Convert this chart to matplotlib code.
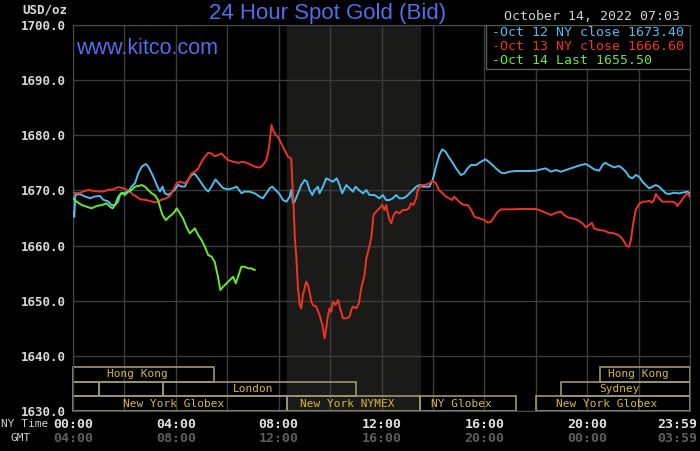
import matplotlib
matplotlib.use('Agg')
import matplotlib.pyplot as plt
from matplotlib.patches import Rectangle
import matplotlib.transforms as mtransforms

# hours after 00:00 NY time, bid price USD/oz
oct12_hours = [0.01, 0.05, 0.09, 0.27, 0.47, 0.66, 0.85, 1.05, 1.18, 1.37, 1.50, 1.63, 1.76, 1.83, 1.95,
               2.15, 2.28, 2.41, 2.54, 2.67, 2.83, 2.93, 3.06, 3.18, 3.28, 3.38, 3.48, 3.57, 3.70, 3.83,
               3.96, 4.09, 4.22, 4.35, 4.48, 4.61, 4.74, 4.87, 5.00, 5.13, 5.26, 5.39, 5.54, 5.67, 5.84,
               6.03, 6.23, 6.36, 6.55, 6.68, 6.87, 7.07, 7.26, 7.39, 7.52, 7.65, 7.75, 7.88, 8.01, 8.17,
               8.30, 8.43, 8.49, 8.56, 8.62, 8.75, 8.88, 9.01, 9.10, 9.20, 9.31, 9.40, 9.53, 9.59, 9.72,
               9.85, 9.98, 10.11, 10.26, 10.37, 10.47, 10.63, 10.76, 10.89, 10.99, 11.12, 11.28, 11.41,
               11.53, 11.73, 11.92, 12.05, 12.18, 12.31, 12.44, 12.57, 12.70, 12.83, 12.96, 13.09, 13.22,
               13.35, 13.48, 13.61, 13.73, 13.86, 13.99, 14.12, 14.25, 14.36, 14.49, 14.61, 14.74, 14.90,
               15.09, 15.22, 15.35, 15.48, 15.68, 15.87, 16.04, 16.17, 16.32, 16.45, 16.65, 16.78, 16.97,
               17.23, 17.49, 17.75, 18.01, 18.20, 18.39, 18.59, 18.78, 18.98, 19.17, 19.36, 19.56, 19.75,
               19.95, 20.08, 20.27, 20.47, 20.60, 20.70, 20.85, 21.05, 21.24, 21.37, 21.50, 21.63, 21.76,
               21.89, 22.02, 22.15, 22.28, 22.41, 22.54, 22.67, 22.80, 22.93, 23.06, 23.19, 23.38, 23.57,
               23.77, 23.90, 23.99]
oct12_price = [1666.1, 1665.2, 1669.2, 1669.35, 1668.9, 1668.6, 1668.9, 1669.0, 1668.3, 1668.0, 1667.35,
               1667.35, 1668.0, 1669.2, 1669.5, 1669.8, 1670.7, 1671.3, 1673.1, 1674.3, 1674.8, 1674.3,
               1673.1, 1671.9, 1670.7, 1669.8, 1670.7, 1669.5, 1669.2, 1669.6, 1670.1, 1671.0, 1670.7,
               1670.7, 1671.9, 1672.8, 1673.0, 1672.2, 1671.3, 1670.4, 1669.8, 1670.7, 1672.0, 1671.3,
               1670.4, 1670.2, 1670.4, 1670.7, 1669.5, 1669.8, 1669.77, 1669.47, 1668.87, 1668.57,
               1669.47, 1670.38, 1670.68, 1670.08, 1669.47, 1668.26, 1667.96, 1668.87, 1670.08, 1667.66,
               1667.96, 1669.47, 1670.98, 1671.89, 1671.59, 1670.08, 1669.17, 1670.08, 1670.68, 1669.47,
               1670.68, 1672.19, 1671.89, 1671.59, 1672.19, 1670.98, 1669.47, 1670.98, 1670.38, 1669.77,
               1670.68, 1670.08, 1669.47, 1670.08, 1669.17, 1669.17, 1668.57, 1669.17, 1668.26, 1668.26,
               1668.57, 1669.17, 1668.57, 1668.57, 1668.87, 1669.47, 1670.08, 1670.68, 1670.98, 1670.68,
               1670.68, 1670.68, 1671.89, 1674.3, 1676.42, 1677.45, 1677.02, 1676.12, 1675.21, 1674.0,
               1672.79, 1673.1, 1674.0, 1674.61, 1674.61, 1675.21, 1675.63, 1675.21, 1674.61, 1674.0,
               1673.22, 1673.1, 1673.4, 1673.52, 1673.52, 1673.52, 1673.58, 1673.82, 1674.0, 1673.4,
               1673.7, 1673.4, 1673.7, 1674.0, 1674.3, 1674.61, 1674.79, 1674.43, 1673.82, 1673.58,
               1674.61, 1675.03, 1674.61, 1674.18, 1674.43, 1674.0, 1673.4, 1672.49, 1672.19, 1672.79,
               1672.49, 1671.58, 1670.98, 1670.38, 1670.68, 1670.98, 1670.68, 1670.07, 1669.47, 1669.35,
               1669.59, 1669.47, 1669.65, 1669.77, 1669.47]

oct13_hours = [0.01, 0.21, 0.40, 0.60, 0.79, 0.98, 1.18, 1.37, 1.57, 1.76, 1.95, 2.08, 2.21, 2.34, 2.47,
               2.60, 2.80, 2.99, 3.18, 3.31, 3.44, 3.64, 3.77, 3.90, 4.03, 4.16, 4.35, 4.48, 4.61, 4.74,
               4.87, 5.00, 5.13, 5.26, 5.39, 5.51, 5.64, 5.77, 5.90, 6.03, 6.23, 6.42, 6.61, 6.81, 7.07,
               7.26, 7.39, 7.52, 7.62, 7.68, 7.72, 7.78, 7.88, 7.97, 8.10, 8.23, 8.36, 8.49, 8.53, 8.58,
               8.63, 8.69, 8.75, 8.82, 8.88, 8.94, 9.01, 9.07, 9.14, 9.20, 9.27, 9.33, 9.46, 9.59, 9.70,
               9.79, 9.85, 9.92, 9.98, 10.05, 10.11, 10.21, 10.31, 10.39, 10.50, 10.63, 10.76, 10.82,
               10.89, 11.02, 11.12, 11.21, 11.34, 11.41, 11.51, 11.60, 11.69, 11.79, 11.92, 12.03, 12.12,
               12.18, 12.29, 12.38, 12.47, 12.57, 12.70, 12.83, 12.96, 13.06, 13.15, 13.24, 13.35, 13.41,
               13.54, 13.67, 13.87, 13.99, 14.12, 14.23, 14.38, 14.51, 14.64, 14.74, 14.83, 14.96, 15.09,
               15.22, 15.35, 15.49, 15.61, 15.81, 16.00, 16.13, 16.26, 16.39, 16.52, 16.65, 16.84, 17.10,
               17.36, 17.55, 17.75, 18.01, 18.20, 18.39, 18.59, 18.78, 18.98, 19.11, 19.24, 19.43, 19.63,
               19.82, 19.95, 20.08, 20.18, 20.27, 20.47, 20.66, 20.85, 21.05, 21.22, 21.35, 21.44, 21.53,
               21.63, 21.70, 21.79, 21.89, 22.02, 22.15, 22.28, 22.41, 22.51, 22.60, 22.67, 22.80, 22.93,
               23.12, 23.32, 23.45, 23.51, 23.64, 23.77, 23.90, 23.99]
oct13_price = [1669.6, 1669.5, 1669.8, 1670.1, 1669.9, 1669.8, 1669.8, 1670.1, 1670.2, 1670.6, 1670.4,
               1670.1, 1669.8, 1669.2, 1668.9, 1668.4, 1668.3, 1668.1, 1667.8, 1668.0, 1668.3, 1668.6,
               1669.0, 1670.1, 1671.3, 1671.6, 1671.3, 1671.9, 1673.1, 1673.4, 1674.0, 1675.2, 1676.1,
               1676.8, 1676.7, 1676.2, 1676.4, 1676.7, 1676.1, 1675.5, 1675.2, 1675.0, 1675.2, 1674.9,
               1674.31, 1674.13, 1674.61, 1675.52, 1677.63, 1680.05, 1681.87, 1680.96, 1680.05, 1679.75,
               1678.54, 1677.33, 1676.12, 1675.82, 1671.59, 1667.36, 1661.31, 1657.68, 1652.24, 1649.22,
               1648.61, 1651.03, 1652.24, 1653.45, 1652.85, 1651.64, 1649.82, 1649.22, 1648.92, 1647.4,
               1645.59, 1643.17, 1644.99, 1647.4, 1648.61, 1648.01, 1649.82, 1649.22, 1650.13, 1648.61,
               1646.8, 1646.8, 1647.1, 1648.31, 1648.92, 1648.61, 1649.52, 1652.24, 1654.66, 1657.68,
               1659.5, 1661.31, 1665.54, 1666.15, 1666.75, 1667.36, 1666.45, 1667.36, 1664.94, 1664.03,
               1665.54, 1666.15, 1665.85, 1666.45, 1666.45, 1666.75, 1667.66, 1667.36, 1668.57, 1670.08,
               1670.98, 1670.98, 1671.29, 1671.77, 1671.28, 1670.07, 1669.47, 1668.86, 1668.56, 1668.26,
               1668.86, 1668.26, 1667.65, 1667.35, 1667.35, 1666.44, 1665.23, 1664.93, 1664.63, 1664.15,
               1664.33, 1665.23, 1666.14, 1666.57, 1666.57, 1666.57, 1666.63, 1666.63, 1666.63, 1666.63,
               1666.32, 1665.96, 1665.54, 1665.96, 1666.14, 1665.54, 1665.12, 1664.93, 1664.63, 1664.03,
               1663.3, 1663.72, 1664.15, 1663.12, 1662.82, 1662.7, 1662.33, 1662.21, 1661.91, 1661.31,
               1660.7, 1659.92, 1659.79, 1661.0, 1664.03, 1666.44, 1667.53, 1667.96, 1667.96, 1668.14,
               1667.78, 1668.26, 1669.35, 1668.56, 1667.96, 1667.96, 1667.96, 1667.65, 1667.17, 1667.96,
               1668.86, 1669.47, 1668.86]

oct14_hours = [0.01, 0.14, 0.34, 0.53, 0.72, 0.92, 1.11, 1.31, 1.44, 1.54, 1.63, 1.76, 1.89, 2.02, 2.15,
               2.28, 2.41, 2.54, 2.67, 2.80, 2.93, 3.06, 3.18, 3.31, 3.38, 3.48, 3.61, 3.74, 3.83, 3.96,
               4.03, 4.16, 4.28, 4.41, 4.54, 4.74, 4.87, 5.00, 5.13, 5.26, 5.39, 5.51, 5.64, 5.73, 5.84,
               5.97, 6.10, 6.23, 6.33, 6.42, 6.55, 6.68, 6.81, 6.94, 7.07]
oct14_price = [1668.56, 1667.96, 1667.35, 1667.05, 1666.75, 1667.17, 1667.35, 1667.65, 1667.05, 1666.75,
               1667.35, 1668.86, 1669.59, 1669.17, 1669.77, 1670.07, 1670.68, 1670.8, 1670.98, 1670.68,
               1670.07, 1669.47, 1669.17, 1668.26, 1667.05, 1665.54, 1664.63, 1665.24, 1665.54, 1666.14,
               1666.75, 1665.84, 1664.93, 1663.42, 1662.21, 1663.12, 1661.91, 1661.0, 1659.79, 1658.28,
               1657.98, 1657.07, 1654.35, 1651.94, 1652.54, 1653.14, 1653.75, 1654.35, 1653.14, 1654.35,
               1656.17, 1656.17, 1655.87, 1655.87, 1655.56]

legend_labels = ['-Oct 12 NY close 1673.40', '-Oct 13 NY close 1666.60', '-Oct 14 Last 1655.50']

# trading sessions: name, start hour, end hour, row (0 = bottom)
session_names = ['New York Globex', 'New York NYMEX', 'NY Globex', 'New York Globex',
                 '', '', 'London', 'Sydney',
                 'Hong Kong', 'Hong Kong']
session_start = [0.0, 8.33, 13.5, 18.0, 0.0, 1.0, 3.5, 19.0, 0.0, 20.5]
session_end = [8.33, 13.5, 17.25, 24.0, 1.0, 3.5, 11.0, 24.0, 5.5, 24.0]
session_row = [0, 0, 0, 0, 1, 1, 1, 1, 2, 2]

ny_ticks = [0, 4, 8, 12, 16, 20]
ny_labels = ['00:00', '04:00', '08:00', '12:00', '16:00', '20:00']
gmt_labels = ['04:00', '08:00', '12:00', '16:00', '20:00', '00:00']

MONO = 'DejaVu Sans Mono'
W, H = 700, 451

fig = plt.figure(figsize=(7, 4.51), dpi=100, facecolor='black')
ax = fig.add_axes([73 / W, 1 - 411 / H, 617 / W, 386 / H], facecolor='black')


def ftext(x, y, s, **kw):
    # figure text placed in pixel coordinates from top left
    fig.text(x / W, 1 - y / H, s, **kw)


ax.set_xlim(0, 24)
ax.set_ylim(1630, 1700)

# NYMEX open hours shading
ax.axvspan(8.33, 13.5, color='#1a1b18', zorder=0)

for h in range(0, 25, 2):
    ax.axvline(h, color='#3c3c3c', lw=1, zorder=1)
for p in range(1630, 1701, 10):
    ax.axhline(p, color='#3c3c3c', lw=1, zorder=1)

for sp in ax.spines.values():
    sp.set_color('#4a4a4a')

ax.set_xticks([])
ax.set_yticks(range(1630, 1701, 10))
ax.set_yticklabels(['%.1f' % p for p in range(1630, 1701, 10)], family=MONO,
                   fontsize=9, color='#d8d8d8', fontweight='bold')
ax.tick_params(axis='y', length=0, pad=5)

# session boxes
row_h = 2.65
for name, s, e, r in zip(session_names, session_start, session_end, session_row):
    y0 = 1630 + r * row_h
    ax.add_patch(Rectangle((s, y0), e - s, row_h, fill=False, edgecolor='#9c9670',
                           lw=1.2, zorder=2, clip_on=False))
    if name:
        ax.text((s + e) / 2 - 0.25, y0 + row_h / 2, name, ha='center', va='center', family=MONO,
                fontsize=8, color='#d9b83a', zorder=3)

ax.plot(oct12_hours, oct12_price, color='#4fbcee', lw=1.4, zorder=4)
ax.plot(oct13_hours, oct13_price, color='#ee3424', lw=1.4, zorder=5)
ax.plot(oct14_hours, oct14_price, color='#66ea2c', lw=1.4, zorder=6)

# legend box
ax.add_patch(Rectangle(((486 - 73) / 617, 1 - 44 / 386), (690 - 486) / 617, 44 / 386,
                       transform=ax.transAxes, facecolor='black', edgecolor='#5a5a5a',
                       lw=1, zorder=7))
for lab, c, yy in zip(legend_labels, ['#4fbcee', '#ee3424', '#66ea2c'], [33, 46, 60]):
    ftext(492, yy, lab, family=MONO, fontsize=9.5, color=c, va='center', ha='left', zorder=8)

# time axis labels
trans = mtransforms.blended_transform_factory(ax.transData, fig.transFigure)
for h, a, b in zip(ny_ticks, ny_labels, gmt_labels):
    ax.text(h, 1 - 424 / H, a, transform=trans, ha='center', va='center', family=MONO,
            fontsize=9.5, color='#e2e2e2', fontweight='bold')
    ax.text(h, 1 - 439 / H, b, transform=trans, ha='center', va='center', family=MONO,
            fontsize=9.5, color='#5e5e5e', fontweight='bold')
ftext(697, 424, '23:59', ha='right', va='center', family=MONO, fontsize=9.5,
      color='#e2e2e2', fontweight='bold')
ftext(697, 439, '03:59', ha='right', va='center', family=MONO, fontsize=9.5,
      color='#5e5e5e', fontweight='bold')
ftext(1, 424, 'NY Time', ha='left', va='center', family=MONO, fontsize=8, color='#cfcfcf')
ftext(31, 438, 'GMT', ha='right', va='center', family=MONO, fontsize=8, color='#cfcfcf')

ftext(67, 10, 'USD/oz', ha='right', va='center', family=MONO, fontsize=9, color='#d8d8d8',
      fontweight='bold')
ftext(328, 13, '24 Hour Spot Gold (Bid)', ha='center', va='center', family='Liberation Sans',
      fontsize=16, color='#4f6fec')
ftext(76, 49, 'www.kitco.com', ha='left', va='center', family='Liberation Sans',
      fontsize=15.5, color='#4f6fec')
ftext(680, 17, 'October 14, 2022 07:03', ha='right', va='center', family=MONO, fontsize=9.5,
      color='#cfcfcf')

fig.savefig('out.png', dpi=100, facecolor='black')
